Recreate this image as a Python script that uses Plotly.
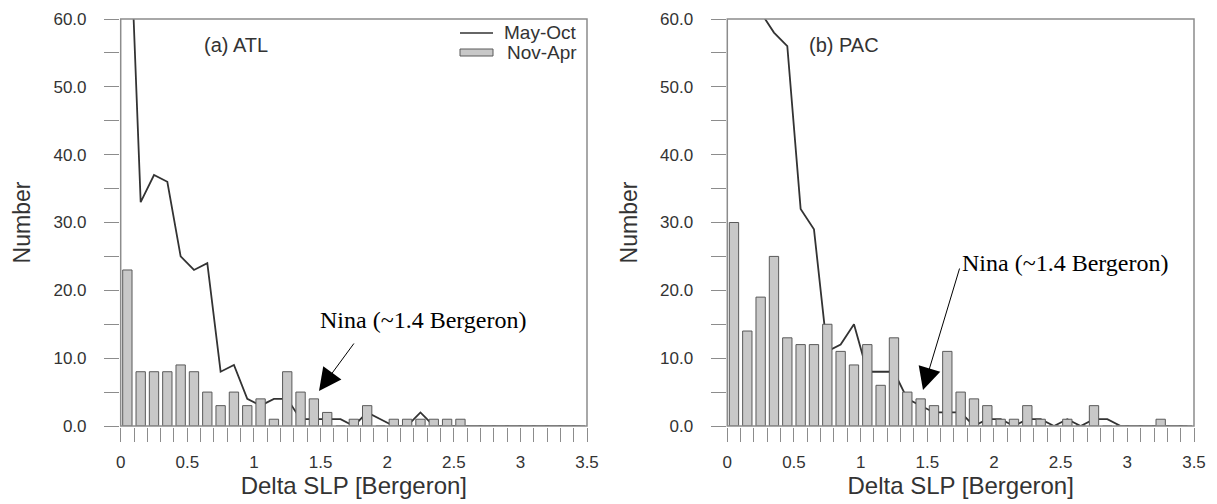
import plotly.graph_objects as go

# ---------------- data ----------------
bin_centers = [0.05, 0.15, 0.25, 0.35, 0.45, 0.55, 0.65, 0.75, 0.85, 0.95,
               1.05, 1.15, 1.25, 1.35, 1.45, 1.55, 1.65, 1.75, 1.85, 1.95,
               2.05, 2.15, 2.25, 2.35, 2.45, 2.55, 2.65, 2.75, 2.85, 2.95,
               3.05, 3.15, 3.25, 3.35, 3.45]

atl_may_oct = [84, 33, 37, 36, 25, 23, 24, 8, 9, 4,
               3, 4, 4, 1, 1, 1, 1, 0, 2, 1,
               0, 0, 2, 0, 0, 0, 0, 0, 0, 0,
               0, 0, 0, 0, 0]
atl_nov_apr = [23, 8, 8, 8, 9, 8, 5, 3, 5, 3,
               4, 1, 8, 5, 4, 2, 0, 1, 3, 0,
               1, 1, 1, 1, 1, 1, 0, 0, 0, 0,
               0, 0, 0, 0, 0]

pac_may_oct = [100, 75, 61, 58, 56, 32, 29, 11, 12, 15,
               8, 8, 8, 4, 3, 2, 2, 2, 0, 1,
               1, 0, 1, 1, 0, 1, 0, 1, 1, 0,
               0, 0, 0, 0, 0]
pac_nov_apr = [30, 14, 19, 25, 13, 12, 12, 15, 11, 9,
               12, 6, 13, 5, 4, 3, 11, 5, 4, 3,
               1, 1, 3, 1, 0, 1, 0, 3, 0, 0,
               0, 0, 1, 0, 0]

x_tickvals = [0, 0.5, 1, 1.5, 2, 2.5, 3, 3.5]
x_ticktext = ["0", "0.5", "1", "1.5", "2", "2.5", "3", "3.5"]
y_tickvals = [0, 10, 20, 30, 40, 50, 60]
y_ticktext = ["0.0", "10.0", "20.0", "30.0", "40.0", "50.0", "60.0"]

series_names = ["May-Oct", "Nov-Apr"]
panel_labels = ["(a) ATL", "(b) PAC"]
x_title = "Delta SLP [Bergeron]"
y_title = "Number"
note_text = "Nina (~1.4 Bergeron)"

# ---------------- style ----------------
W, H = 1217, 504
AX = "#8c8c8c"
TXT = "#333333"
SANS = "Liberation Sans, Arial, sans-serif"
SERIF = "Liberation Serif, Times New Roman, serif"
BAR_FILL = "#c8c8c8"
BAR_LINE = "#5a5a5a"
LINE_COL = "#333333"

def px(x):
    return x / W

def py(y):
    return 1 - y / H

fig = go.Figure()

panels = [
    ("x", "y", atl_may_oct, atl_nov_apr),
    ("x2", "y2", pac_may_oct, pac_nov_apr),
]
for xa, ya, line_vals, bar_vals in panels:
    fig.add_trace(go.Scatter(
        x=bin_centers, y=line_vals, mode="lines", name=series_names[0],
        line=dict(color=LINE_COL, width=1.8), xaxis=xa, yaxis=ya,
        showlegend=False, zorder=0))
    fig.add_trace(go.Bar(
        x=bin_centers, y=bar_vals, width=0.07, name=series_names[1],
        marker=dict(color=BAR_FILL, line=dict(color=BAR_LINE, width=1)),
        xaxis=xa, yaxis=ya, showlegend=False, zorder=1))

def xaxis_style(domain, anchor):
    return dict(
        domain=domain, anchor=anchor, range=[0, 3.5],
        tickmode="array", tickvals=x_tickvals, ticktext=x_ticktext,
        ticks="outside", ticklen=14, tickwidth=1, tickcolor=AX,
        ticklabelstandoff=6,
        minor=dict(tick0=0, dtick=0.1, ticks="outside", ticklen=14,
                   tickwidth=1, tickcolor=AX, showgrid=False),
        showline=True, linecolor=AX, linewidth=1.5, mirror=True,
        showgrid=False, zeroline=False, automargin=False,
        tickfont=dict(family=SANS, size=17, color=TXT),
        title=dict(text=x_title, font=dict(family=SANS, size=24, color=TXT),
                   standoff=6),
    )

def yaxis_style(domain, anchor):
    return dict(
        domain=domain, anchor=anchor, range=[0, 60],
        tickmode="array", tickvals=y_tickvals, ticktext=y_ticktext,
        ticks="outside", ticklen=15, tickwidth=1, tickcolor=AX,
        ticklabelstandoff=14,
        minor=dict(tick0=0, dtick=5, ticks="outside", ticklen=15,
                   tickwidth=1, tickcolor=AX, showgrid=False),
        showline=True, linecolor=AX, linewidth=1.5, mirror=True,
        showgrid=False, zeroline=False, automargin=False,
        tickfont=dict(family=SANS, size=17, color=TXT),
        title=dict(text=y_title, font=dict(family=SANS, size=23, color=TXT),
                   standoff=16),
    )

ydom = [py(426), py(19)]
fig.update_layout(
    width=W, height=H,
    margin=dict(l=0, r=0, t=0, b=0),
    paper_bgcolor="white", plot_bgcolor="rgba(0,0,0,0)",
    barmode="overlay",
    xaxis=xaxis_style([px(120.7), px(587)], "y"),
    yaxis=yaxis_style(ydom, "x"),
    xaxis2=xaxis_style([px(727.3), px(1194)], "y2"),
    yaxis2=yaxis_style(ydom, "x2"),
    showlegend=False,
)

# frames around both panels
for xr, yr in [("x domain", "y domain"), ("x2 domain", "y2 domain")]:
    fig.add_shape(type="rect", xref=xr, yref=yr, x0=0, x1=1, y0=0, y1=1,
                  line=dict(color=AX, width=1.5), fillcolor="rgba(0,0,0,0)",
                  layer="above")

# panel labels
fig.add_annotation(x=px(202), y=py(45), xref="paper", yref="paper",
                   text=panel_labels[0], showarrow=False, xanchor="left",
                   yanchor="middle", font=dict(family=SANS, size=20, color=TXT))
fig.add_annotation(x=px(807), y=py(45), xref="paper", yref="paper",
                   text=panel_labels[1], showarrow=False, xanchor="left",
                   yanchor="middle", font=dict(family=SANS, size=20, color=TXT))

# legend (manual, in left panel)
fig.add_shape(type="line", xref="paper", yref="paper",
              x0=px(460), x1=px(493), y0=py(33), y1=py(33),
              line=dict(color=LINE_COL, width=1.5))
fig.add_shape(type="rect", xref="paper", yref="paper",
              x0=px(460), x1=px(493), y0=py(56), y1=py(49),
              fillcolor=BAR_FILL, line=dict(color=BAR_LINE, width=1))
fig.add_annotation(x=px(579), y=py(33), xref="paper", yref="paper",
                   text=series_names[0], showarrow=False, xanchor="right",
                   yanchor="middle", font=dict(family=SANS, size=19, color=TXT))
fig.add_annotation(x=px(579), y=py(53), xref="paper", yref="paper",
                   text=series_names[1], showarrow=False, xanchor="right",
                   yanchor="middle", font=dict(family=SANS, size=19, color=TXT))

# "Nina" notes and arrows
fig.add_annotation(x=px(318), y=py(320), xref="paper", yref="paper",
                   text=note_text, showarrow=False, xanchor="left",
                   yanchor="middle", font=dict(family=SERIF, size=24, color="black"))
fig.add_annotation(x=px(960), y=py(263), xref="paper", yref="paper",
                   text=note_text, showarrow=False, xanchor="left",
                   yanchor="middle", font=dict(family=SERIF, size=24, color="black"))
for tip, tail in [((319, 391), (355, 342)), ((923, 390), (960, 267))]:
    fig.add_annotation(x=px(tip[0]), y=py(tip[1]), xref="paper", yref="paper",
                       text="", showarrow=True, arrowhead=2, arrowsize=4.5,
                       arrowwidth=1, arrowcolor="black",
                       ax=tail[0] - tip[0], ay=tail[1] - tip[1],
                       axref="pixel", ayref="pixel")

fig.write_html("out.html")
